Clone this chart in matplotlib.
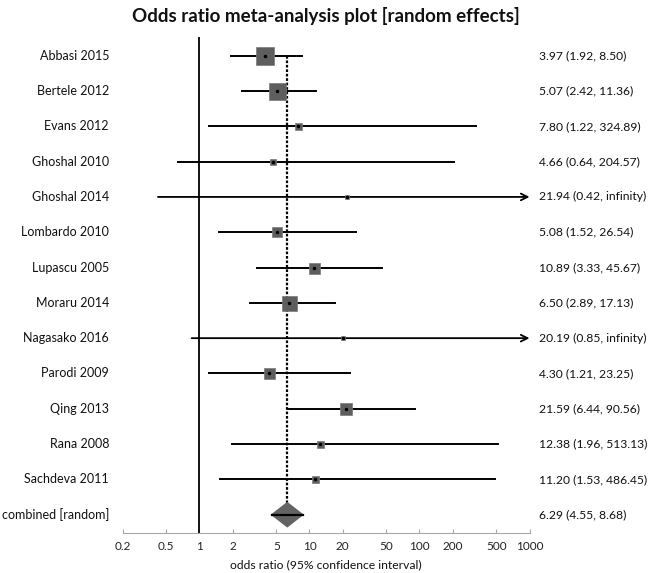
import numpy as np
import matplotlib
matplotlib.use('Agg')
import matplotlib.pyplot as plt

plt.rcParams['font.family'] = ['Lato', 'DejaVu Sans']

studies = ['Abbasi 2015', 'Bertele 2012', 'Evans 2012', 'Ghoshal 2010', 'Ghoshal 2014',
           'Lombardo 2010', 'Lupascu 2005', 'Moraru 2014', 'Nagasako 2016', 'Parodi 2009',
           'Qing 2013', 'Rana 2008', 'Sachdeva 2011']
odds = [3.97, 5.07, 7.80, 4.66, 21.94, 5.08, 10.89, 6.50, 20.19, 4.30, 21.59, 12.38, 11.20]
lower = [1.92, 2.42, 1.22, 0.64, 0.42, 1.52, 3.33, 2.89, 0.85, 1.21, 6.44, 1.96, 1.53]
upper = [8.50, 11.36, 324.89, 204.57, np.inf, 26.54, 45.67, 17.13, np.inf, 23.25, 90.56, 513.13, 486.45]
# side of the weight box, in pixels
box_px = [18, 17, 7, 6, 4, 10, 11, 15, 5, 11, 12, 7, 7]

combined_label = 'combined [random]'
combined = 6.29
combined_lo = 4.55
combined_hi = 8.68

ticks = [0.2, 0.5, 1, 2, 5, 10, 20, 50, 100, 200, 500, 1000]
tick_labels = ['0.2', '0.5', '1', '2', '5', '10', '20', '50', '100', '200', '500', '1000']


def fmt(v):
    return 'infinity' if np.isinf(v) else '%.2f' % v


W, H = 650, 573
fig = plt.figure(figsize=(W / 100, H / 100), dpi=100)
ax = fig.add_axes([122.5 / W, (H - 532.7) / H, 407 / W, (532.7 - 37) / H])
ax.set_xscale('log')
ax.set_xlim(0.2, 1000)
n = len(studies)
ax.set_ylim(13.51, -0.53)

for s in ['top', 'right', 'left']:
    ax.spines[s].set_visible(False)
ax.spines['bottom'].set_color('#a8a8a8')
ax.set_yticks([])
ax.set_xticks(ticks)
ax.set_xticklabels(tick_labels)
ax.minorticks_off()
ax.tick_params(axis='x', direction='in', length=3, color='#a8a8a8', labelsize=8.5,
               labelcolor='#222222', pad=6)

# line of no effect and pooled estimate
ax.axvline(1, color='black', lw=1.3, zorder=2)
ax.plot([combined, combined], [0, n], color='black', lw=1.6, ls=(0, (1.2, 0.8)), zorder=2)

px_to_pt = 72 / 100
for i in range(n):
    if np.isinf(upper[i]):
        ax.annotate('', xy=(1000, i), xytext=(lower[i], i),
                    arrowprops=dict(arrowstyle='->', lw=1.3, color='black',
                                    shrinkA=0, shrinkB=0, mutation_scale=12), zorder=3)
    else:
        ax.plot([lower[i], upper[i]], [i, i], color='black', lw=1.4, zorder=3)
    ax.plot(odds[i], i, marker='s', ms=box_px[i] * px_to_pt, color='#5e5e5e',
            mec='#7a7a7a', mew=0.5, zorder=4)
    ax.plot(odds[i], i, marker='o', ms=1.5, color='black', zorder=5)

    fig.text(109 / W, 1 - (55.7 + 35.3 * i) / H, studies[i], ha='right', va='center',
             fontsize=9, color='#111111')
    fig.text(539 / W, 1 - (55.7 + 35.3 * i) / H,
             '%s (%s, %s)' % (fmt(odds[i]), fmt(lower[i]), fmt(upper[i])),
             ha='left', va='center', fontsize=8.7, color='#111111')

# pooled diamond
h = 0.34
ax.fill([combined_lo, combined, combined_hi, combined],
        [n, n - h, n, n + h], color='#636363', zorder=4)
ax.plot([combined_lo, combined_hi], [n, n], color='black', lw=1.6, zorder=5)
fig.text(109 / W, 1 - (55.7 + 35.3 * n) / H, combined_label, ha='right', va='center',
         fontsize=9, color='#111111')
fig.text(539 / W, 1 - (55.7 + 35.3 * n) / H,
         '%s (%s, %s)' % (fmt(combined), fmt(combined_lo), fmt(combined_hi)),
         ha='left', va='center', fontsize=8.7, color='#111111')

fig.text(326 / W, 1 - 565 / H, 'odds ratio (95% confidence interval)', ha='center',
         va='center', fontsize=8.7, color='#111111')
fig.text(326 / W, 1 - 16 / H, 'Odds ratio meta-analysis plot [random effects]',
         ha='center', va='center', fontsize=13.5, fontweight='bold', color='#111111')

fig.savefig('out.png', dpi=100)
